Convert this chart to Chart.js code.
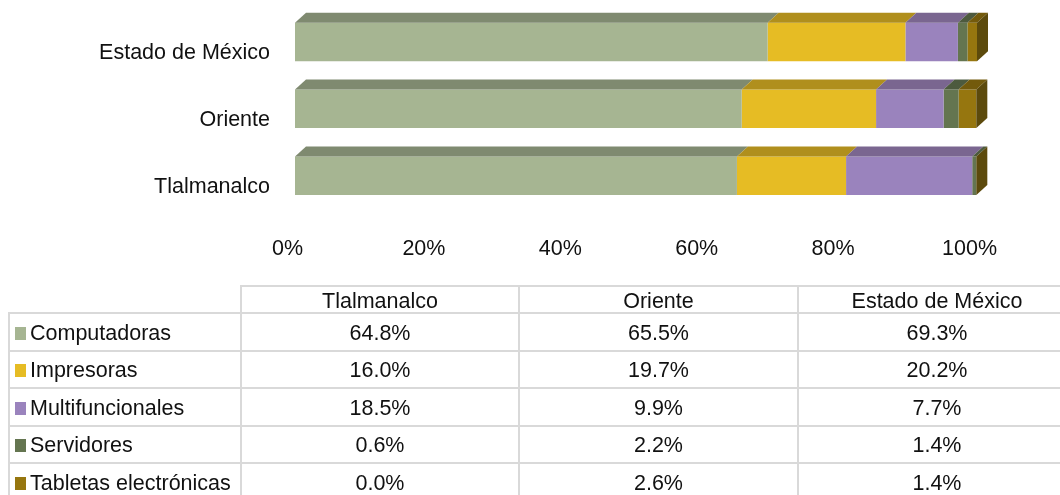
<!DOCTYPE html>
<html>
<head>
<meta charset="utf-8">
<script src="https://cdn.jsdelivr.net/npm/chart.js@4/dist/chart.umd.min.js"></script>
<style>
  html, body { margin: 0; padding: 0; background: #fff; overflow: hidden; }
  #wrap { position: relative; width: 1060px; height: 495px; overflow: hidden; font-family: "Liberation Sans", Arial, sans-serif; }
  #chartBox { position: absolute; left: 0; top: 0; width: 1060px; height: 290px; }
  table { position: absolute; left: 8px; top: 285px; width: 1067px; border-collapse: collapse; table-layout: fixed; font-size: 21.5px; line-height: 22px; color: #111; }
  td { border: 2px solid #d9d9d9; text-align: center; height: 33.5px; padding: 2px 0 0; white-space: nowrap; overflow: hidden; }
  td.blank { border-top: none; border-left: none; }
  td.name { text-align: left; padding-left: 5px; }
  .key { display: inline-block; width: 11px; height: 13px; margin-right: 4px; }
</style>
</head>
<body>
<div id="wrap">
  <div id="chartBox"><canvas id="chart"></canvas></div>
  <table id="tbl"></table>
</div>
<script>
const CATEGORIES = ["Estado de México", "Oriente", "Tlalmanalco"];
const TICKS = ["0%", "20%", "40%", "60%", "80%", "100%"];
const TABLE_COLUMNS = ["Tlalmanalco", "Oriente", "Estado de México"];

// values in the same order as CATEGORIES
const COMPUTADORAS = [69.3, 65.5, 64.8];
const IMPRESORAS = [20.2, 19.7, 16.0];
const MULTIFUNCIONALES = [7.7, 9.9, 18.5];
const SERVIDORES = [1.4, 2.2, 0.6];
const TABLETAS = [1.4, 2.6, 0.0];

const NAMES = ["Computadoras", "Impresoras", "Multifuncionales", "Servidores", "Tabletas electrónicas"];
const COLORS = ["#a6b592", "#e6bc24", "#9a83bd", "#647550", "#96760f"];
const TOP_COLORS = ["#7f8a70", "#b08f1d", "#7a6690", "#4d5a3e", "#735a0c"];
const SIDE_COLOR = "#5c4a0c";
const DEPTH_X = 11;
const DEPTH_Y = 10;

const SERIES = [COMPUTADORAS, IMPRESORAS, MULTIFUNCIONALES, SERVIDORES, TABLETAS];

// fake 3d faces on top of the flat stacked bars
const box3d = {
  id: "box3d",
  afterDatasetsDraw(chart) {
    const ctx = chart.ctx;
    ctx.save();
    CATEGORIES.forEach((c, i) => {
      let right = null;
      SERIES.forEach((s, d) => {
        const bar = chart.getDatasetMeta(d).data[i];
        const top = bar.y - bar.height / 2;
        if (s[i] > 0) {
          ctx.fillStyle = TOP_COLORS[d];
          ctx.beginPath();
          ctx.moveTo(bar.base, top);
          ctx.lineTo(bar.base + DEPTH_X, top - DEPTH_Y);
          ctx.lineTo(bar.x + DEPTH_X, top - DEPTH_Y);
          ctx.lineTo(bar.x, top);
          ctx.closePath();
          ctx.fill();
          right = bar;
        }
      });
      const top = right.y - right.height / 2;
      const bottom = right.y + right.height / 2;
      ctx.fillStyle = SIDE_COLOR;
      ctx.beginPath();
      ctx.moveTo(right.x, top);
      ctx.lineTo(right.x + DEPTH_X, top - DEPTH_Y);
      ctx.lineTo(right.x + DEPTH_X, bottom - DEPTH_Y);
      ctx.lineTo(right.x, bottom);
      ctx.closePath();
      ctx.fill();
    });
    ctx.restore();
  },
};

Chart.defaults.font.family = '"Liberation Sans", Arial, sans-serif';
Chart.defaults.font.size = 21.5;
Chart.defaults.color = "#111";

new Chart(document.getElementById("chart"), {
  type: "bar",
  data: {
    labels: CATEGORIES,
    datasets: SERIES.map((s, i) => ({
      label: NAMES[i],
      data: s,
      backgroundColor: COLORS[i],
      borderWidth: 0,
    })),
  },
  options: {
    indexAxis: "y",
    responsive: true,
    maintainAspectRatio: false,
    animation: false,
    layout: { padding: { left: 0, right: 83, top: 8.5, bottom: 2 } },
    plugins: { legend: { display: false }, tooltip: { enabled: false } },
    datasets: { bar: { categoryPercentage: 0.575, barPercentage: 1 } },
    scales: {
      x: {
        stacked: true,
        min: 0,
        max: 100,
        grid: { display: false, drawTicks: false },
        border: { display: false },
        ticks: {
          stepSize: 20,
          maxRotation: 0,
          labelOffset: -7.5,
          padding: 26.5,
          callback: (v, i) => TICKS[i],
        },
      },
      y: {
        stacked: true,
        afterFit: (scale) => {
          scale.width = 295;
          scale.paddingTop = 0;
          scale.paddingBottom = 0;
        },
        grid: { display: false, drawTicks: false },
        border: { display: false },
        ticks: { padding: 25, labelOffset: 11 },
      },
    },
  },
  plugins: [box3d],
});

// data table under the chart
const widths = [232, 278, 279, 278];
const tbl = document.getElementById("tbl");
const colgroup = document.createElement("colgroup");
widths.forEach((w) => {
  const col = document.createElement("col");
  col.style.width = w + "px";
  colgroup.appendChild(col);
});
tbl.appendChild(colgroup);
const head = tbl.insertRow();
head.insertCell().className = "blank";
TABLE_COLUMNS.forEach((c) => { head.insertCell().textContent = c; });
head.querySelectorAll("td").forEach((td) => { td.style.height = "23px"; });
// table columns run the other way round from CATEGORIES
NAMES.forEach((name, i) => {
  const row = tbl.insertRow();
  const first = row.insertCell();
  first.className = "name";
  const key = document.createElement("span");
  key.className = "key";
  key.style.background = COLORS[i];
  first.appendChild(key);
  first.appendChild(document.createTextNode(name));
  [...SERIES[i]].reverse().forEach((v) => {
    row.insertCell().textContent = v.toFixed(1) + "%";
  });
});
</script>
</body>
</html>
